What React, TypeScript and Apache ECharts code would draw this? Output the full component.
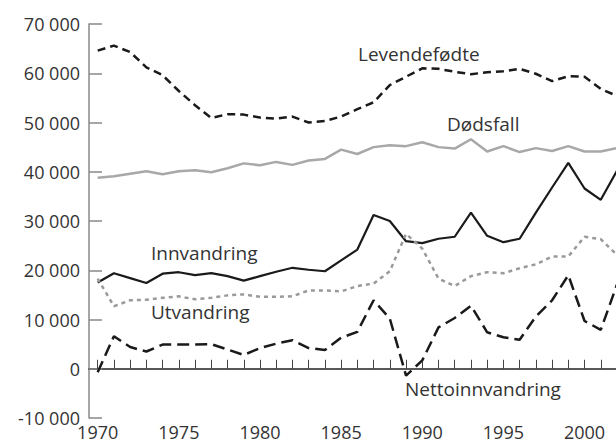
import React, { useEffect, useRef } from "react";
import * as echarts from "echarts";

const years = [
  1970, 1971, 1972, 1973, 1974, 1975, 1976, 1977, 1978, 1979, 1980, 1981, 1982, 1983, 1984, 1985, 1986,
  1987, 1988, 1989, 1990, 1991, 1992, 1993, 1994, 1995, 1996, 1997, 1998, 1999, 2000, 2001, 2002,
];

const levendefodte = [
  64600, 65600, 64300, 61200, 59600, 56400, 53500, 50900, 51700, 51600, 51000, 50800, 51200, 50000, 50300,
  51200, 52700, 54100, 57600, 59300, 61000, 60900, 60300, 59800, 60200, 60400, 60900, 59900, 58400, 59400,
  59300, 56800, 55400,
];

const dodsfall = [
  38800, 39100, 39600, 40100, 39500, 40100, 40300, 39900, 40700, 41700, 41300, 42000, 41400, 42300, 42600,
  44500, 43600, 45000, 45400, 45200, 46000, 45000, 44700, 46600, 44100, 45200, 44000, 44800, 44200, 45200,
  44100, 44100, 44800,
];

const innvandring = [
  17500, 19400, 18400, 17400, 19300, 19600, 19000, 19400, 18800, 17900, 18800, 19700, 20500, 20100, 19800,
  22000, 24200, 31200, 30000, 25900, 25500, 26400, 26800, 31700, 27000, 25700, 26400, 31700, 36800, 41800,
  36600, 34300, 40200,
];

const utvandring = [
  18300, 12700, 13900, 14000, 14400, 14700, 14100, 14400, 14900, 15100, 14600, 14600, 14700, 15900, 15900,
  15700, 16800, 17300, 19800, 27400, 24400, 18300, 16800, 18800, 19600, 19400, 20400, 21200, 22800, 22800,
  26800, 26300, 23100,
];

const nettoinnvandring = [
  -700, 6600, 4400, 3500, 4900, 4900, 4900, 5000, 3900, 2800, 4200, 5100, 5800, 4200, 3800, 6300, 7500,
  13900, 10200, -1400, 1700, 8400, 10300, 12800, 7400, 6400, 5900, 10600, 13900, 19000, 9700, 7900, 17100,
];

const xLabelYears = [1970, 1975, 1980, 1985, 1990, 1995, 2000];

const FONT = "'Open Sans', 'Noto Sans', sans-serif";
const TEXT = "#333333";

function fmt(v: number): string {
  const s = String(Math.abs(v)).replace(/\B(?=(\d{3})+(?!\d))/g, " ");
  return v < 0 ? "-" + s : s;
}

function pairs(vals: number[]) {
  return years.map((y, i) => [y, vals[i]]);
}

export default function App() {
  const ref = useRef<HTMLDivElement>(null);
  useEffect(() => {
    document.body.style.margin = "0";
    if (!ref.current) return;
    const chart = echarts.init(ref.current, null, { renderer: "svg" });
    const label = (text: string, x: number, y: number) => ({
      type: "text",
      x,
      y,
      style: {
        text,
        fill: TEXT,
        font: `19px ${FONT}`,
        textVerticalAlign: "middle",
      },
    });
    chart.setOption({
      animation: false,
      backgroundColor: "#ffffff",
      grid: { left: 89, top: 24, width: 528, bottom: 25, outerBoundsMode: "none", containLabel: false },
      xAxis: [
        {
          type: "value",
          position: "bottom",
          min: 1969.464,
          max: 2002,
          axisLine: { show: false, onZero: false },
          axisTick: { show: false },
          splitLine: { show: false },
          axisLabel: {
            customValues: xLabelYears,
            formatter: (v: number) => String(Math.round(v)),
            color: TEXT,
            fontSize: 18,
            lineHeight: 16,
            fontFamily: FONT,
            margin: 6,
          },
        },
        {
          type: "value",
          position: "bottom",
          min: 1969.464,
          max: 2002,
          axisLine: { show: true, onZero: true, lineStyle: { color: "#222222", width: 1.5 } },
          axisTick: {
            show: true,
            inside: true,
            length: 9,
            customValues: years,
            lineStyle: { color: "#444444", width: 1 },
          },
          splitLine: { show: false },
          axisLabel: { show: false },
        },
      ],
      yAxis: {
        type: "value",
        min: -10000,
        max: 70000,
        interval: 10000,
        axisLine: { show: true, lineStyle: { color: "#888888", width: 1.5 } },
        axisTick: { show: true, inside: true, length: 13, lineStyle: { color: "#888888", width: 1.5 } },
        splitLine: { show: false },
        axisLabel: {
          formatter: (v: number) => fmt(v),
          color: TEXT,
          fontSize: 18,
          fontFamily: FONT,
          margin: 9,
        },
      },
      series: [
        {
          name: "Levendefødte",
          type: "line",
          data: pairs(levendefodte),
          symbol: "none",
          lineStyle: { color: "#1a1a1a", width: 2.5, type: [8, 5] },
        },
        {
          name: "Dødsfall",
          type: "line",
          data: pairs(dodsfall),
          symbol: "none",
          lineStyle: { color: "#a8a8a8", width: 2.5, type: "solid" },
        },
        {
          name: "Innvandring",
          type: "line",
          data: pairs(innvandring),
          symbol: "none",
          lineStyle: { color: "#1a1a1a", width: 2.2, type: "solid" },
        },
        {
          name: "Utvandring",
          type: "line",
          data: pairs(utvandring),
          symbol: "none",
          lineStyle: { color: "#9a9a9a", width: 2.5, type: [4, 4] },
        },
        {
          name: "Nettoinnvandring",
          type: "line",
          data: pairs(nettoinnvandring),
          symbol: "none",
          lineStyle: { color: "#1a1a1a", width: 2.5, type: [12, 6] },
        },
      ],
      graphic: [
        label("Levendefødte", 358, 54),
        label("Dødsfall", 447, 124),
        label("Innvandring", 151, 253),
        label("Utvandring", 151, 312),
        label("Nettoinnvandring", 405, 389),
      ],
    });
    return () => chart.dispose();
  }, []);
  return <div ref={ref} style={{ width: 616, height: 443 }} />;
}
